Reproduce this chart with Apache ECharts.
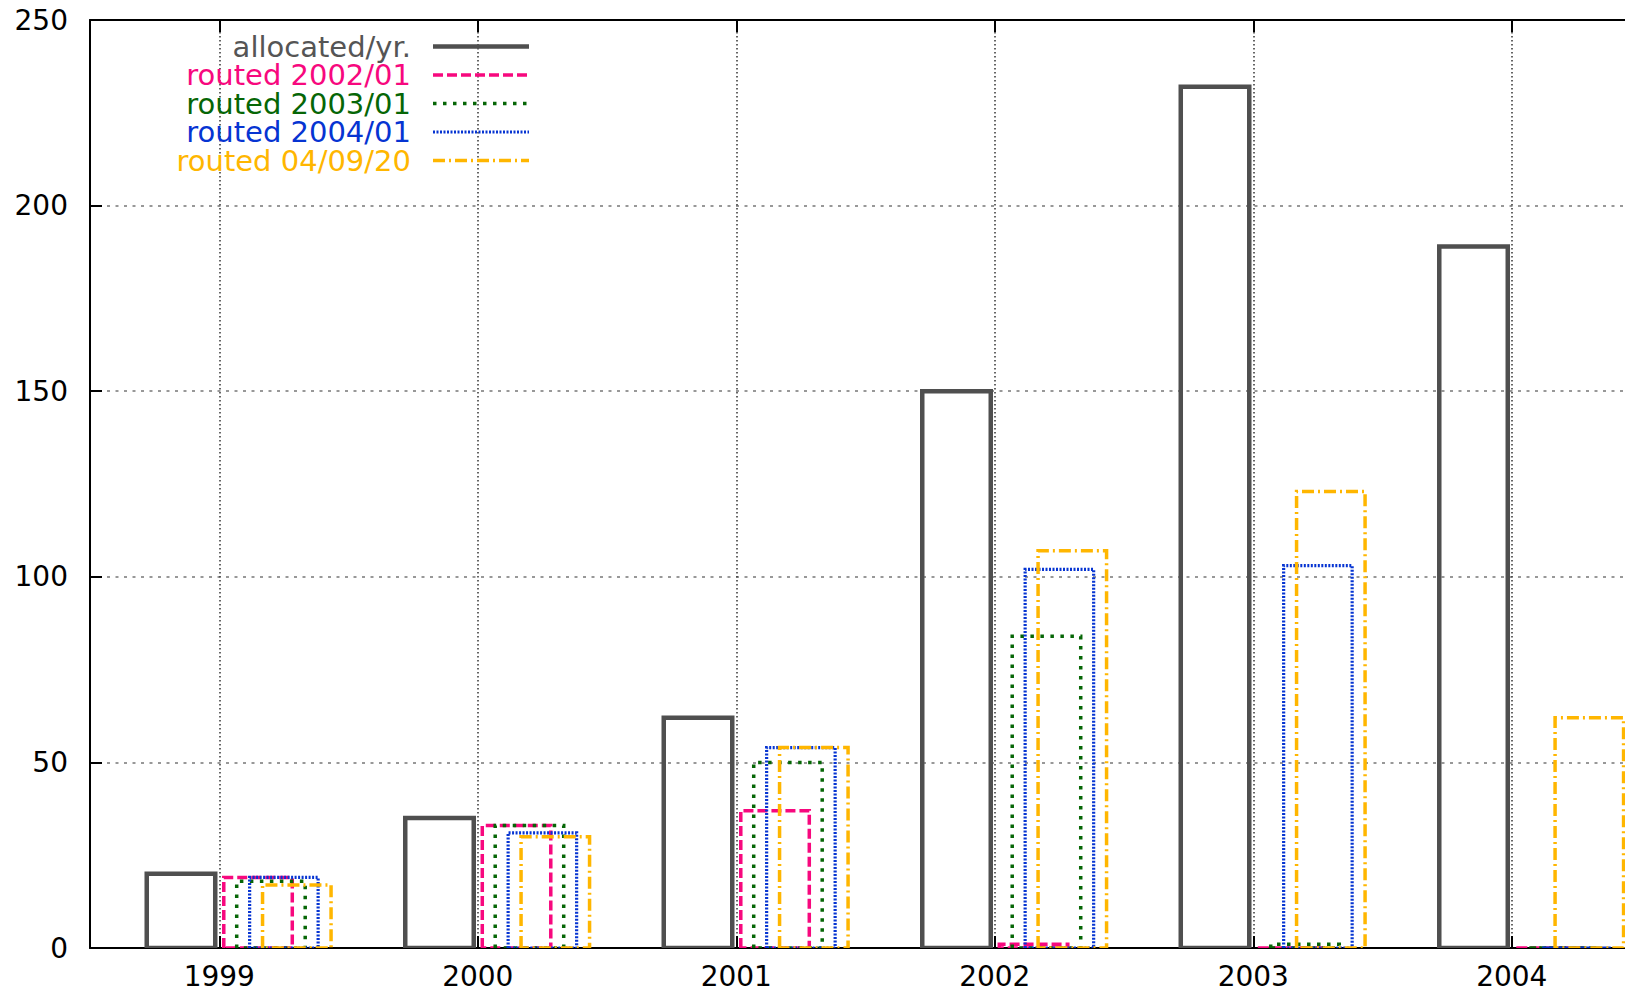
<!DOCTYPE html>
<html>
<head>
<meta charset="utf-8">
<title>Allocated vs routed prefixes per year</title>
<script src="https://cdn.jsdelivr.net/npm/echarts@6/dist/echarts.min.js"></script>
<style>
  html, body { margin: 0; padding: 0; background: #ffffff; }
  #chart { width: 1625px; height: 993px; }
</style>
</head>
<body>
<div id="chart"></div>
<script>
// Years on the x axis
const years = [1999, 2000, 2001, 2002, 2003, 2004];

// Values per year for each series
const allocated    = [20, 35, 62, 150, 232, 189];
const routed200201 = [19, 33, 37, 1, 0, 0];
const routed200301 = [18, 33, 50, 84, 1, 0];
const routed200401 = [19, 31, 54, 102, 103, 0];
const routed040920 = [17, 30, 54, 107, 123, 62];

// Axis ticks
const yTicks = [0, 50, 100, 150, 200, 250];
const xTicks = years;

const FONT = '"DejaVu Sans", "Liberation Sans", sans-serif';
const BOX_W = 0.265;          // box width in years

// name, values, horizontal offset from the year, stroke colour, width, dash
const seriesDefs = [
  { name: 'allocated/yr.',    values: allocated,    offset: -0.148, color: '#4f4f4f', width: 4.5, dash: null,           text: '#555555' },
  { name: 'routed 2002/01',   values: routed200201, offset:  0.150, color: '#f7087e', width: 3.5, dash: [10, 4],       text: '#f7087e' },
  { name: 'routed 2003/01',   values: routed200301, offset:  0.200, color: '#066606', width: 3.5, dash: [3.5, 6.5],    text: '#066606' },
  { name: 'routed 2004/01',   values: routed200401, offset:  0.250, color: '#0634d2', width: 3.2, dash: [2, 1.5],      text: '#0634d2' },
  { name: 'routed 04/09/20',  values: routed040920, offset:  0.300, color: '#ffb600', width: 3.5, dash: [12, 4, 2, 4], text: '#ffb600' }
];

function boxRenderer(def) {
  return function (params, api) {
    const x = api.value(0);
    const v = api.value(1);
    const base = api.coord([x + def.offset - BOX_W / 2, 0]);
    const top  = api.coord([x + def.offset + BOX_W / 2, v]);
    return {
      type: 'polygon',
      shape: {
        points: [
          [base[0], base[1]],
          [base[0], top[1]],
          [top[0], top[1]],
          [top[0], base[1]]
        ]
      },
      style: {
        fill: 'none',
        stroke: def.color,
        lineWidth: def.width,
        lineDash: def.dash,
        lineJoin: 'miter'
      }
    };
  };
}

const series = seriesDefs.map(function (def) {
  return {
    type: 'custom',
    name: def.name,
    xAxisIndex: 0,
    yAxisIndex: 0,
    clip: true,
    renderItem: boxRenderer(def),
    encode: { x: 0, y: 1 },
    data: years.map(function (yr, i) { return [yr, def.values[i]]; })
  };
});

// Key in the upper left corner: right-aligned labels with line samples
const keyX = 411, keyLineX1 = 433, keyLineX2 = 529, keyY0 = 46.5, keyDy = 28.5;
const keyElements = [];
seriesDefs.forEach(function (def, i) {
  const y = keyY0 + i * keyDy;
  keyElements.push({
    type: 'text',
    x: keyX,
    y: y,
    style: {
      text: def.name,
      fill: def.text,
      font: '29px ' + FONT,
      lineHeight: 27,
      align: 'right',
      verticalAlign: 'middle'
    },
    z: 100
  });
  keyElements.push({
    type: 'line',
    shape: { x1: keyLineX1, y1: y, x2: keyLineX2, y2: y },
    style: {
      stroke: def.color,
      lineWidth: def.width,
      lineDash: def.dash
    },
    z: 100
  });
});

const chart = echarts.init(document.getElementById('chart'), null, { renderer: 'svg' });

chart.setOption({
  backgroundColor: '#ffffff',
  animation: false,
  grid: {
    left: 90,
    top: 20,
    bottom: 45,
    right: 0,
    containLabel: false
  },
  xAxis: [
    {
      type: 'value',
      position: 'bottom',
      min: 1998.5,
      max: 2004.438,
      axisLine: { show: true, onZero: false, lineStyle: { color: '#000', width: 2 } },
      axisTick: { show: true, inside: true, length: 12, customValues: xTicks, lineStyle: { color: '#000', width: 2 } },
      axisLabel: {
        show: true,
        customValues: xTicks,
        margin: 14,
        color: '#000',
        fontFamily: FONT,
        fontSize: 28,
        formatter: function (v) { return String(v); }
      },
      splitLine: { show: true, lineStyle: { color: '#333333', width: 1.5, type: [1.5, 2.5] } }
    },
    {
      type: 'value',
      position: 'top',
      min: 1998.5,
      max: 2004.438,
      axisLine: { show: true, onZero: false, lineStyle: { color: '#000', width: 2 } },
      axisTick: { show: true, inside: true, length: 12, customValues: xTicks, lineStyle: { color: '#000', width: 2 } },
      axisLabel: { show: false },
      splitLine: { show: false }
    }
  ],
  yAxis: {
    type: 'value',
    min: 0,
    max: 250,
    interval: 50,
    axisLine: { show: true, onZero: false, lineStyle: { color: '#000', width: 2 } },
    axisTick: { show: true, inside: true, length: 12, lineStyle: { color: '#000', width: 2 } },
    axisLabel: {
      margin: 22,
      color: '#000',
      fontFamily: FONT,
      fontSize: 28,
      formatter: function (v) { return yTicks.indexOf(v) >= 0 ? String(v) : ''; }
    },
    splitLine: { show: true, lineStyle: { color: '#777777', width: 1.5, type: [3, 5.5] } }
  },
  graphic: keyElements,
  series: series
});
</script>
</body>
</html>
